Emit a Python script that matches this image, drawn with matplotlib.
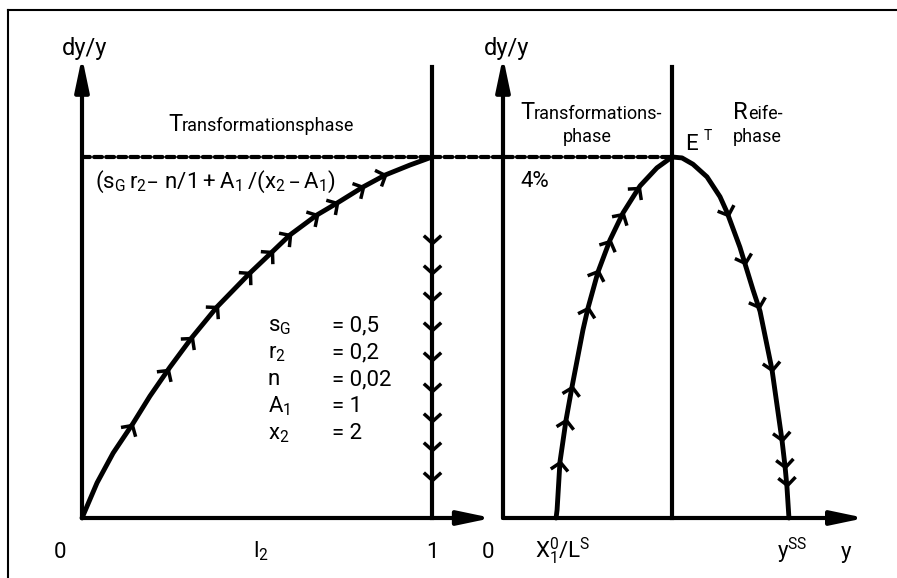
"""Phase diagram: growth path of dy/y over l_2 and over y (Transformations- und Reifephase)."""

import matplotlib

matplotlib.use("Agg")
import matplotlib.pyplot as plt
import numpy as np
from matplotlib.lines import Line2D
from matplotlib.markers import MarkerStyle
from matplotlib.patches import ConnectionPatch
from matplotlib.path import Path
from matplotlib.transforms import Affine2D

plt.rcParams["font.family"] = ["Roboto", "DejaVu Sans"]

# left panel: dy/y (in %) along l_2
L2 = [0, 0.043, 0.089, 0.146, 0.194, 0.251, 0.314, 0.386, 0.48, 0.543,
      0.594, 0.671, 0.729, 0.803, 0.866, 0.937, 1.0]
DY_LEFT = [0, 0.39, 0.72, 1.05, 1.35, 1.67, 2.0, 2.34, 2.715, 2.947,
           3.136, 3.357, 3.49, 3.668, 3.80, 3.911, 4.0]
L2_ARROWS = [0.143, 0.246, 0.314, 0.386, 0.48, 0.543, 0.594, 0.671, 0.729, 0.803, 0.866]
DROP_ARROWS = [3.05, 2.71, 2.41, 2.08, 1.75, 1.41, 1.08, 0.75, 0.42]

# right panel: dy/y over y (peak E^T normalised to y = 1)
Y_UP = [0.314, 0.320, 0.337, 0.373, 0.408, 0.473, 0.503, 0.562, 0.633, 0.710, 0.811, 0.911, 1.0]
DY_UP = [0, 0.09, 0.62, 1.086, 1.45, 2.083, 2.327, 2.726, 3.08, 3.38, 3.68, 3.88, 4.0]
Y_DOWN = [1.0, 1.059, 1.124, 1.207, 1.284, 1.325, 1.402, 1.479, 1.521, 1.592,
          1.651, 1.669, 1.680, 1.692]
DY_DOWN = [4.0, 3.99, 3.92, 3.78, 3.56, 3.39, 3.0, 2.53, 2.29, 1.64,
           0.86, 0.57, 0.35, 0]
UP_ARROWS = [0.62, 1.09, 1.45, 2.33, 2.74, 3.07, 3.37, 3.66]
DOWN_ARROWS = [3.36, 2.83, 2.34, 1.64, 0.86, 0.57, 0.37]

PEAK = 4.0
Y_TIP = 5.11
V_TOP = 5.0
X_TIP_LEFT = 1.171
X_TIP_RIGHT = 2.142

PARAM_NAMES = [r"$\mathregular{s_G}$", r"$\mathregular{r_2}$", "n",
               r"$\mathregular{A_1}$", r"$\mathregular{x_2}$"]
PARAM_VALUES = ["= 0,5", "= 0,2", "= 0,02", "= 1", "= 2"]
PARAM_ROWS = [2.072, 1.773, 1.474, 1.175, 0.875]

W, H = 897, 578
fig = plt.figure(figsize=(W / 100, H / 100), dpi=100)


def px_axes(x0, x1, y0, y1):
    return fig.add_axes([x0 / W, 1 - y1 / H, (x1 - x0) / W, (y1 - y0) / H])


axL = px_axes(82, 432, 157, 518)
axR = px_axes(503, 672, 157, 518)
for ax in (axL, axR):
    ax.set_xlim(0, 1)
    ax.set_ylim(0, PEAK)
    ax.axis("off")

LW = 3.0
CURVE_LW = 3.5
CHEVRON = Path([(-0.9, 1), (0, 0), (-0.9, -1)], [Path.MOVETO, Path.LINETO, Path.LINETO])


def chevron(ax, x, y, dx, dy):
    p0 = ax.transData.transform((x, y))
    p1 = ax.transData.transform((x + dx, y + dy))
    ang = np.degrees(np.arctan2(p1[1] - p0[1], p1[0] - p0[0]))
    m = MarkerStyle(CHEVRON, transform=Affine2D().rotate_deg(ang))
    ax.plot([x], [y], marker=m, ms=12.5, mew=2.5, mfc="none", mec="black",
            ls="none", clip_on=False)


def axis_arrow(ax, tip):
    ax.annotate("", xy=tip, xytext=(0, 0), annotation_clip=False,
                arrowprops=dict(arrowstyle="-|>,head_length=2.0,head_width=0.42",
                                mutation_scale=10, lw=LW, color="black",
                                shrinkA=0, shrinkB=0))


# axes with arrow heads
for ax, xtip in ((axL, X_TIP_LEFT), (axR, X_TIP_RIGHT)):
    axis_arrow(ax, (0, Y_TIP))
    axis_arrow(ax, (xtip, 0))
    ax.plot([1, 1], [0, V_TOP], color="black", lw=LW, clip_on=False)

# left: path and downward jump at l_2 = 1
axL.plot(L2, DY_LEFT, color="black", lw=CURVE_LW, clip_on=False, solid_capstyle="round")
for x in L2_ARROWS:
    y = np.interp(x, L2, DY_LEFT)
    chevron(axL, x, y, 0.01, np.interp(x + 0.01, L2, DY_LEFT) - y)
for y in DROP_ARROWS:
    chevron(axL, 1, y, 0, -0.1)

# right: rise in the transformation phase, decline in the maturity phase
axR.plot(Y_UP + Y_DOWN[1:], DY_UP + DY_DOWN[1:], color="black", lw=CURVE_LW,
         clip_on=False, solid_capstyle="round", solid_joinstyle="round")
for d in UP_ARROWS:
    x = np.interp(d, DY_UP, Y_UP)
    chevron(axR, x, d, np.interp(d + 0.05, DY_UP, Y_UP) - x, 0.05)
dd_rev, yd_rev = DY_DOWN[::-1], Y_DOWN[::-1]
for d in DOWN_ARROWS:
    x = np.interp(d, dd_rev, yd_rev)
    chevron(axR, x, d, np.interp(d - 0.05, dd_rev, yd_rev) - x, -0.05)

# dashed level of the maximum growth rate
fig.add_artist(ConnectionPatch(xyA=(0, PEAK), coordsA=axL.transData,
                               xyB=(1, PEAK), coordsB=axR.transData,
                               lw=3.0, ls=(0, (1.9, 1.0)), color="black"))

# frame (cropped on the right and bottom)
fig.add_artist(Line2D([8 / W, 1], [1 - 10 / H, 1 - 10 / H], transform=fig.transFigure,
                      color="black", lw=1.5))
fig.add_artist(Line2D([8 / W, 8 / W], [1 - 10 / H, 0], transform=fig.transFigure,
                      color="black", lw=1.5))

FS = 13      # phase labels
FSB = 16     # symbols and numbers
FSC = 17     # enlarged initials

# left panel texts
axL.text(0.006, 5.13, "dy/y", fontsize=FSC, ha="center", va="baseline")
t = axL.text(0.246, 4.29, "T", fontsize=FSC, ha="left", va="baseline")
axL.annotate("ransformationsphase", xy=(1, 4.29), xycoords=(t, "data"),
             fontsize=FS, ha="left", va="baseline", annotation_clip=False)
axL.text(0.037, 3.66, r"$\mathregular{(s_G\,r_2–\ n/1+A_1\,/(x_2\,–\,A_1)}$",
         fontsize=FSB, ha="left", va="baseline")
for name, val, row in zip(PARAM_NAMES, PARAM_VALUES, PARAM_ROWS):
    axL.text(0.531, row, name, fontsize=FSB, ha="left", va="baseline")
    axL.text(0.714, row, val, fontsize=FSB, ha="left", va="baseline")
axL.text(-0.063, -0.44, "0", fontsize=FSB, ha="center", va="baseline")
axL.text(0.489, -0.44, r"$\mathregular{l_2}$", fontsize=FSB, ha="left", va="baseline")
axL.text(1.0, -0.44, "1", fontsize=FSB, ha="center", va="baseline")

# right panel texts
axR.text(0.024, 5.13, "dy/y", fontsize=FSC, ha="center", va="baseline")
t = axR.text(0.1, 4.42, "T", fontsize=FSC, ha="left", va="baseline")
axR.annotate("ransformations-", xy=(1, 4.42), xycoords=(t, "data"),
             fontsize=FS, ha="left", va="baseline", annotation_clip=False)
axR.text(0.497, 4.17, "phase", fontsize=FS, ha="center", va="baseline")
axR.text(1.077, 4.08, "E", fontsize=FSB, ha="left", va="baseline")
axR.text(1.19, 4.19, "T", fontsize=10, ha="left", va="baseline")
t = axR.text(1.361, 4.42, "R", fontsize=FSC, ha="left", va="baseline")
axR.annotate("eife-", xy=(1, 4.42), xycoords=(t, "data"),
             fontsize=FS, ha="left", va="baseline", annotation_clip=False)
axR.text(1.361, 4.17, "phase", fontsize=FS, ha="left", va="baseline")
axR.text(0.101, 3.67, "4%", fontsize=FSB, ha="left", va="baseline")
axR.text(-0.089, -0.44, "0", fontsize=FSB, ha="center", va="baseline")
axR.text(0.355, -0.44, r"$\mathregular{X_1^0/L^S}$", fontsize=FSB, ha="center", va="baseline")
axR.text(1.621, -0.44, r"$\mathregular{y^{SS}}$", fontsize=FSB, ha="left", va="baseline")
axR.text(2.03, -0.44, "y", fontsize=FSB, ha="center", va="baseline")

fig.savefig("out.png", dpi=100)
